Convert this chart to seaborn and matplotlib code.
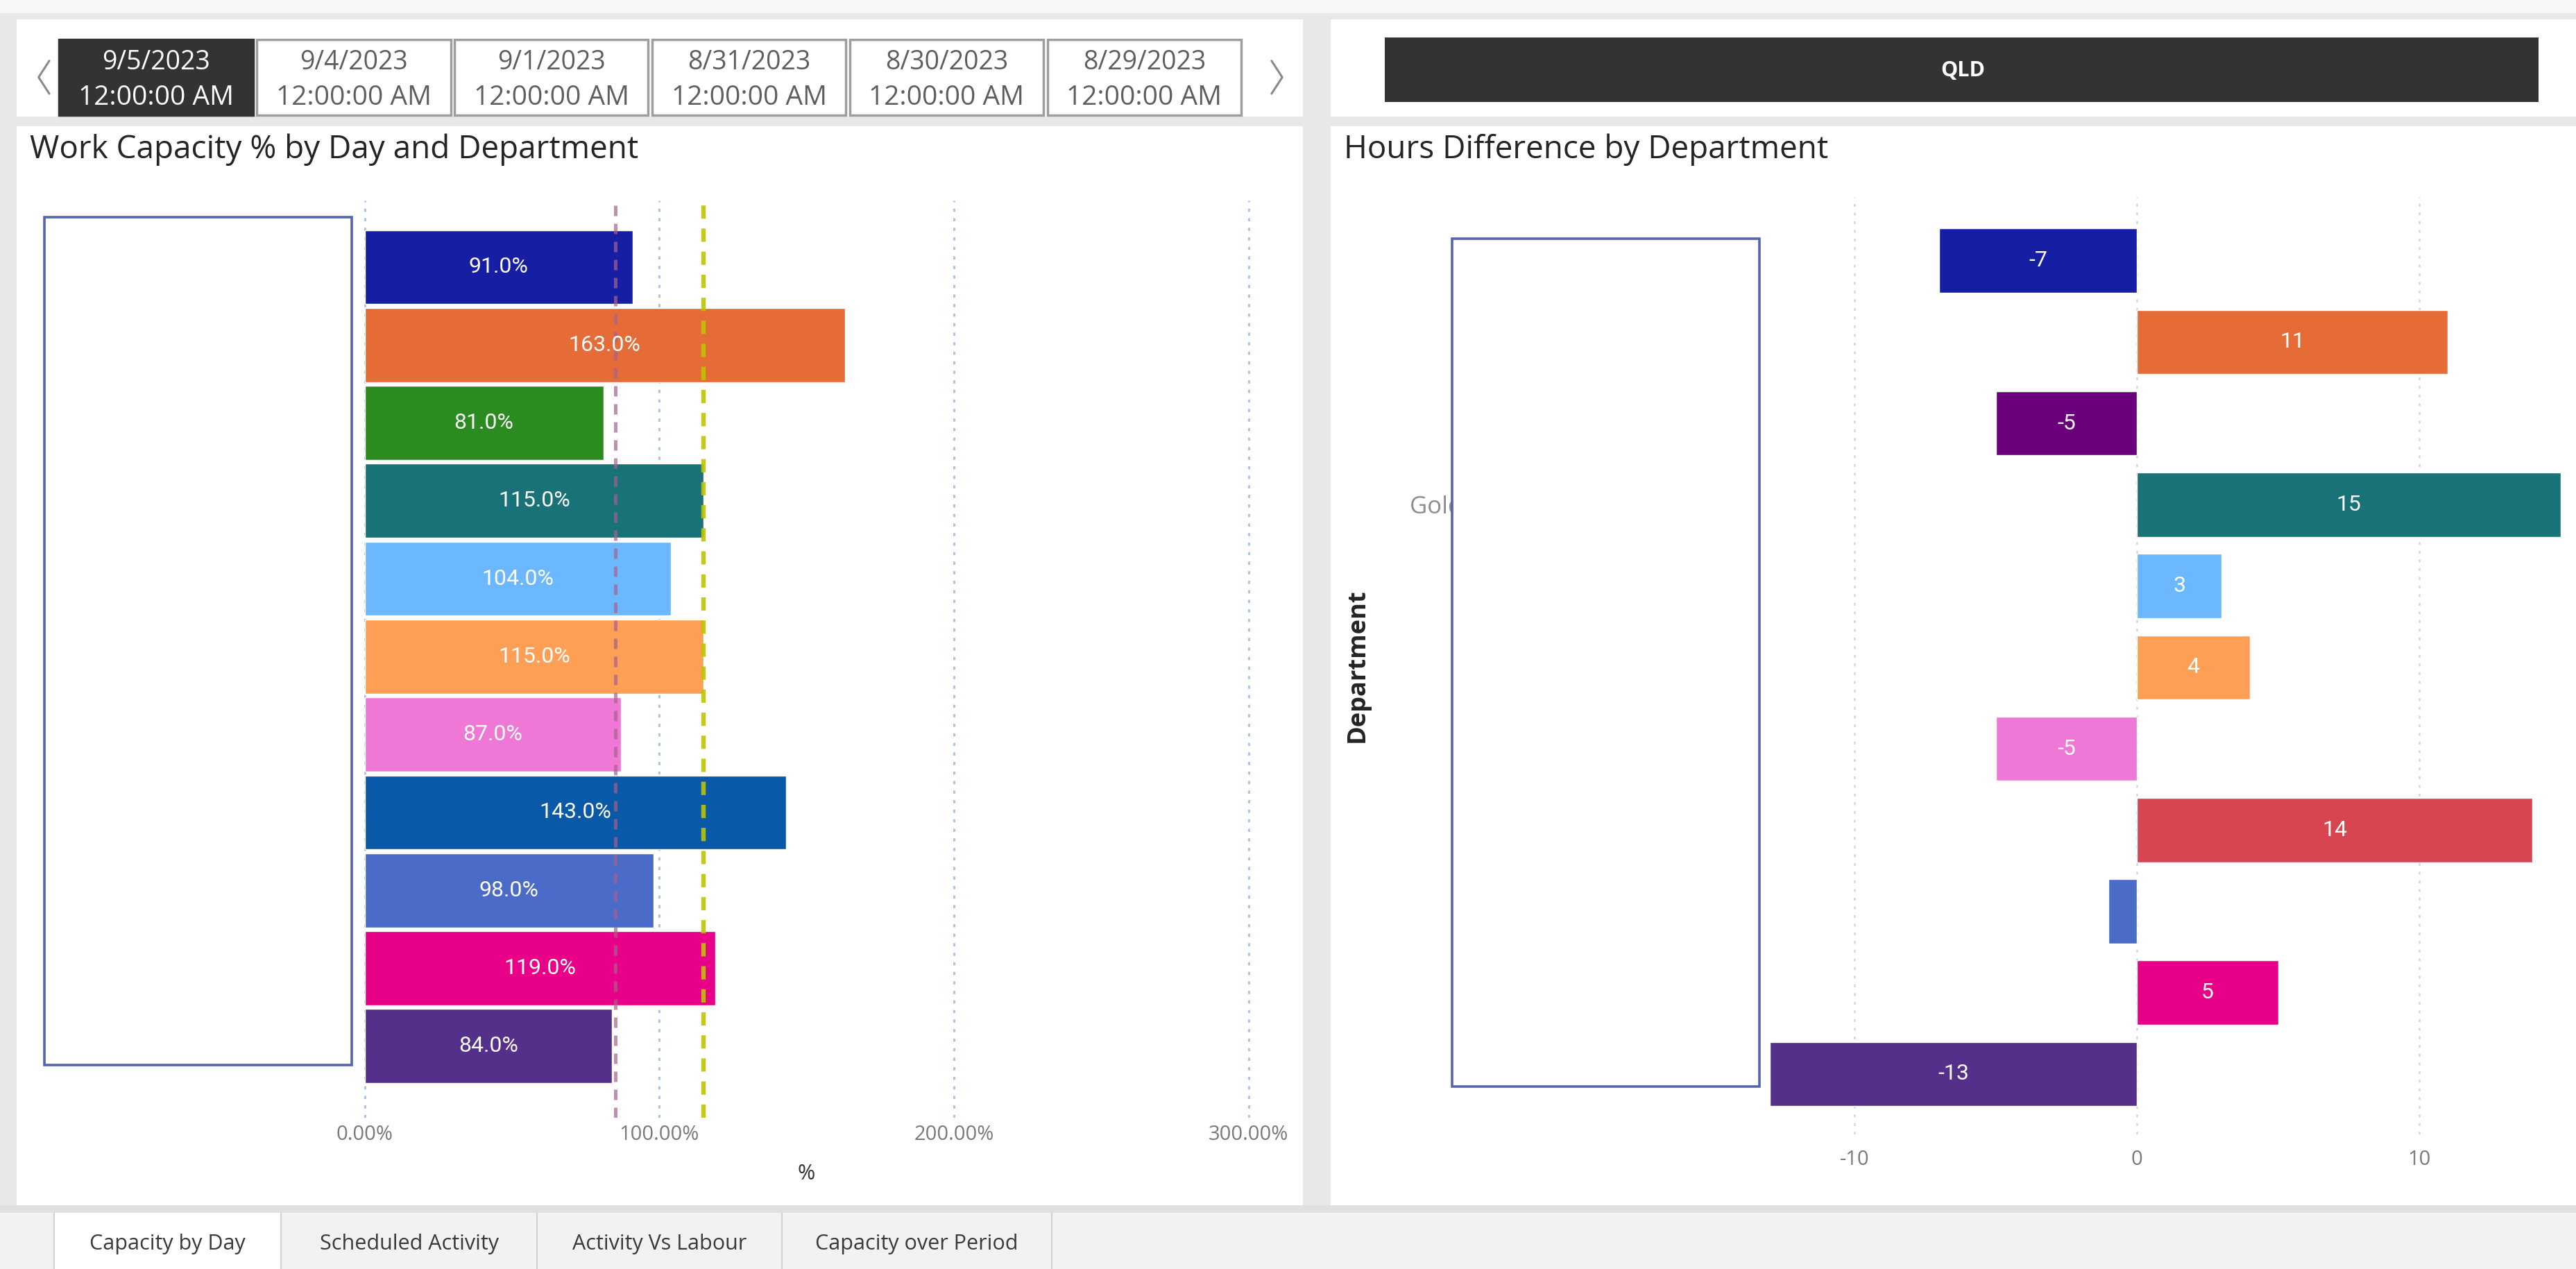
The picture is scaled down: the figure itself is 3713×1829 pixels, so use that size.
import matplotlib
matplotlib.use("Agg")
import matplotlib.pyplot as plt
import pandas as pd
import seaborn as sns
from matplotlib.patches import Rectangle
from matplotlib.lines import Line2D

sns.set_theme(style="white")
plt.rcParams["font.family"] = ["Open Sans", "DejaVu Sans"]
plt.rcParams["axes.unicode_minus"] = False

# ---- data -------------------------------------------------------------
slicer_dates = ["9/5/2023", "9/4/2023", "9/1/2023", "8/31/2023", "8/30/2023", "8/29/2023"]
slicer_time = "12:00:00 AM"
region = "QLD"
page_tabs = ["Capacity by Day", "Scheduled Activity", "Activity Vs Labour", "Capacity over Period"]

capacity_depts = [f"Dept {i + 1:02d}" for i in range(11)]
capacity_pct = [91, 163, 81, 115, 104, 115, 87, 143, 98, 119, 84]
capacity_colors = ["#161FA4", "#E66C37", "#2A8C1F", "#197278", "#6CB8FF", "#FE9F56",
                   "#EF78D6", "#0A58A8", "#4A6CC8", "#E90088", "#55308A"]
capacity_ticks = [0, 100, 200, 300]
capacity_tick_labels = ["0.00%", "100.00%", "200.00%", "300.00%"]
low_threshold = 85
high_threshold = 115

hours_depts = [f"Unit {i + 1:02d}" for i in range(11)]
hours_diff = [-7, 11, -5, 15, 3, 4, -5, 14, -1, 5, -13]
hours_labels = ["-7", "11", "-5", "15", "3", "4", "-5", "14", "", "5", "-13"]
hours_tick_labels = ["", "", "", "Gold Coast", "", "", "", "", "", "", ""]
hours_colors = ["#161FA4", "#E66C37", "#6B007B", "#197278", "#6CB8FF", "#FE9F56",
                "#EF78D6", "#D64550", "#4A6CC8", "#E90088", "#55308A"]
hours_ticks = [-10, 0, 10]
hours_tick_text = ["-10", "0", "10"]

# ---- page layout (positions given on a 1568 x 772 grid) ---------------
W, H = 1568.0, 772.0
fig = plt.figure(figsize=(37.13, 18.29), dpi=100)
fig.patch.set_facecolor("#E8E8E8")


def frac_box(x0, y0, x1, y1):
    return [x0 / W, 1 - y1 / H, (x1 - x0) / W, (y1 - y0) / H]


def fig_rect(x0, y0, x1, y1, fc="white", ec="none", lw=0, z=-1):
    r = Rectangle((x0 / W, 1 - y1 / H), (x1 - x0) / W, (y1 - y0) / H,
                  transform=fig.transFigure, facecolor=fc, edgecolor=ec,
                  linewidth=lw, zorder=z)
    fig.add_artist(r)
    return r


def fig_text(x, y, s, **kw):
    return fig.text(x / W, 1 - y / H, s, **kw)


def fig_line(xs, ys, **kw):
    fig.add_artist(Line2D([x / W for x in xs], [1 - y / H for y in ys],
                          transform=fig.transFigure, **kw))


# top strip and visual containers
fig_rect(0, 0, W, 8, fc="#F7F7F7")
fig_rect(10, 12, 793, 71)
fig_rect(810, 12, W, 71)
fig_rect(10, 77, 793, 733)
fig_rect(810, 77, W, 733)

# date slicer
fig_line([30, 23.5, 30], [37, 47, 57], color="#8A8A8A", lw=2.2)
fig_line([774, 780.5, 774], [37, 47, 57], color="#8A8A8A", lw=2.2)
for i, d in enumerate(slicer_dates):
    x0 = 36 + i * 120.3
    x1 = x0 + 118
    selected = i == 0
    fig_rect(x0, 24, x1, 70, fc="#333333" if selected else "white",
             ec="#333333" if selected else "#9E9E9E", lw=2.5, z=1)
    tc = "white" if selected else "#5E5E5E"
    cx = (x0 + x1) / 2
    fig_text(cx, 38, d, ha="center", va="center", fontsize=27, color=tc, zorder=2)
    fig_text(cx, 59.5, slicer_time, ha="center", va="center", fontsize=28, color=tc, zorder=2)

# region slicer
fig_rect(843, 23, 1545, 62, fc="#333333", z=1)
fig_text(1195, 43, region, ha="center", va="center", fontsize=22,
         fontweight="bold", color="white", zorder=2)

# titles
fig_text(18, 91, "Work Capacity % by Day and Department", ha="left", va="center",
         fontsize=33, fontweight="normal", color="#252423")
fig_text(818, 91, "Hours Difference by Department", ha="left", va="center",
         fontsize=33, fontweight="normal", color="#252423")

# page tabs
fig_rect(0, 733, W, 738, fc="#E0E0E0")
fig_rect(0, 738, W, H, fc="#F3F2F1")
tab_edges = [33, 171, 327, 476, 640]
fig_rect(tab_edges[0], 738, tab_edges[1], H, fc="white", z=0)
for e in tab_edges:
    fig_line([e, e], [738, H], color="#D2D2D2", lw=1.5)
for i, t in enumerate(page_tabs):
    cx = (tab_edges[i] + tab_edges[i + 1]) / 2
    fig_text(cx, 757, t, ha="center", va="center", fontsize=22, color="#3A3A3A")

# ---- Work Capacity chart ---------------------------------------------
cap_df = pd.DataFrame({"Department": capacity_depts, "Capacity": capacity_pct})
ax1 = fig.add_axes(frac_box(218.4, 122, 770, 680))
ax1.set_facecolor("none")
sns.barplot(data=cap_df, x="Capacity", y="Department", hue="Department",
            palette=capacity_colors, orient="h", width=0.95, saturation=1,
            legend=False, ax=ax1)
ax1.set_xlim(-2, 305.6)
ax1.set_ylim(10.92, -0.854)
ax1.set_xticks(capacity_ticks)
ax1.set_xticklabels(capacity_tick_labels)
ax1.xaxis.grid(True, color="#A9C4EE", linestyle=(0, (1.5, 3)), linewidth=2.2)
ax1.set_axisbelow(True)
ax1.tick_params(axis="x", length=0, pad=7, labelsize=21, labelcolor="#7A7A7A")
ax1.tick_params(axis="y", length=0, labelleft=False)
ax1.set_ylabel("")
ax1.set_xlabel("%", fontsize=22, color="#333333")
ax1.xaxis.set_label_coords(0.494, -0.05)
for s in ax1.spines.values():
    s.set_visible(False)
ax1.axvline(low_threshold, color="#A8608E", linestyle=(0, (3, 2.2)), lw=3.6, alpha=0.7, zorder=5)
ax1.axvline(high_threshold, color="#BFC400", linestyle=(0, (3, 2.2)), lw=4.6, alpha=0.9, zorder=5)

cap_label_text = [f"{v:.1f}%" for v in capacity_pct]
for cont in ax1.containers:
    labs = [cap_label_text[int(round(b.get_y() + b.get_height() / 2))] for b in cont]
    ax1.bar_label(cont, labels=labs, label_type="center", color="white",
                  fontsize=23, family="Roboto", zorder=6)

# ---- Hours Difference chart ------------------------------------------
hrs_df = pd.DataFrame({"Department": hours_depts, "Hours": hours_diff})
ax2 = fig.add_axes(frac_box(1072, 120, 1568, 690))
ax2.set_facecolor("none")
sns.barplot(data=hrs_df, x="Hours", y="Department", hue="Department",
            palette=hours_colors, orient="h", width=0.79, saturation=1,
            legend=False, ax=ax2)
ax2.set_xlim(-13.3, 15.54)
ax2.set_ylim(10.74, -0.78)
ax2.set_xticks(hours_ticks)
ax2.set_xticklabels(hours_tick_text)
ax2.xaxis.grid(True, color="#DADADA", linestyle=(0, (1.5, 3)), linewidth=2)
ax2.set_axisbelow(True)
ax2.tick_params(axis="x", length=0, pad=16, labelsize=21, labelcolor="#7A7A7A")
ax2.set_yticks(range(len(hours_depts)))
ax2.set_yticklabels(hours_tick_labels)
ax2.tick_params(axis="y", length=0, pad=365, labelsize=25, labelcolor="#8E8E8E")
for lbl in ax2.get_yticklabels():
    lbl.set_horizontalalignment("left")
ax2.set_xlabel("")
ax2.set_ylabel("Department", fontsize=26, fontweight="bold", color="#252423")
ax2.yaxis.set_label_coords(-0.48, 0.5)
for s in ax2.spines.values():
    s.set_visible(False)

for cont in ax2.containers:
    labs = [hours_labels[int(round(b.get_y() + b.get_height() / 2))] for b in cont]
    ax2.bar_label(cont, labels=labs, label_type="center", color="white",
                  fontsize=23, family="Roboto", zorder=6)

# department label panels (blank boxes over the category axis)
fig_rect(27, 132, 214, 648, fc="white", ec="#5464AE", lw=2.6, z=10)
fig_rect(884, 145, 1071, 661, fc="white", ec="#5464AE", lw=2.6, z=10)

fig.savefig("out.png", dpi=100, facecolor=fig.get_facecolor())
